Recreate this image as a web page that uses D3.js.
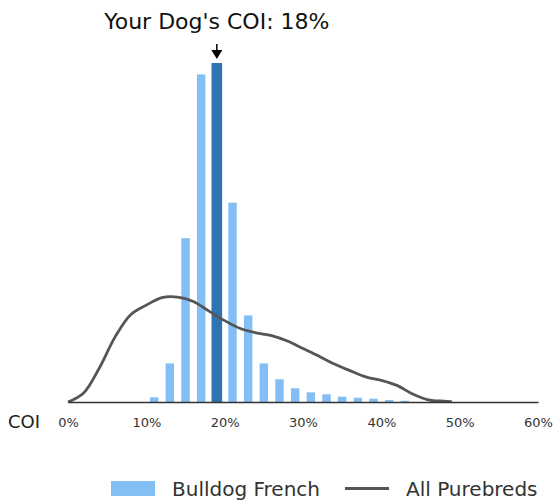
<!DOCTYPE html>
<html>
<head>
<meta charset="utf-8">
<script src="https://cdn.jsdelivr.net/npm/d3@7"></script>
<style>
    body {margin:0; background:white;}
    text {font-family:"DejaVu Sans", sans-serif;}
</style>
</head>
<body>
<div id="chart"></div>
<script>
//COI bins (left edge of each 2% bin) and share of Bulldog French dogs in each
var binStarts = [10,12,14,16,18,20,22,24,26,28,30,32,34,36,38,40,42];
var breedShare = [0.37,3.04,12.9,25.8,26.7,15.7,6.82,3.04,1.79,1.08,0.76,0.61,0.42,0.34,0.26,0.16,0.1];

//density of all purebreds, same units
var curveCoi = [0,2,4,6,8,10,12,14,16,18,20,22,24,26,28,30,32,34,36,38,40,42,44,46,48,49];
var curveDensity = [0,0.71,2.68,5.11,6.87,7.63,8.22,8.26,7.91,7.16,6.41,5.79,5.45,5.23,4.8,4.21,3.62,2.99,2.47,1.98,1.71,1.31,0.63,0.17,0.07,0.03];

var tickValues = [0,10,20,30,40,50,60];
var dogCoi = 18;
var binSize = 2;

var screen = {width:555, height:502};
var margins = {left:68, right:17, top:63, bottom:100};

var svg = d3.select("#chart")
    .append("svg")
    .attr("width",screen.width)
    .attr("height",screen.height);

var xScale = d3.scaleLinear()
    .domain([0,60])
    .range([margins.left, screen.width-margins.right]);

var yScale = d3.scaleLinear()
    .domain([0, d3.max(breedShare)])
    .range([screen.height-margins.bottom, margins.top]);

var binPx = xScale(binSize)-xScale(0);

var bars = binStarts.map(function(b,i){return {start:b, value:breedShare[i]};});

//the bars
svg.append("g")
    .selectAll("rect")
    .data(bars)
    .enter()
    .append("rect")
    .attr("x",function(d)
    {
        var w = d.start==dogCoi ? binPx*0.68 : binPx*0.54;
        return xScale(d.start+binSize/2)-w/2;
    })
    .attr("width",function(d){return d.start==dogCoi ? binPx*0.68 : binPx*0.54;})
    .attr("y",function(d){return yScale(d.value);})
    .attr("height",function(d){return yScale(0)-yScale(d.value);})
    .attr("fill",function(d){return d.start==dogCoi ? "#2f74b1" : "#83bef4";});

//all purebreds line
var line = d3.line()
    .x(function(d,i){return xScale(curveCoi[i]);})
    .y(function(d){return yScale(d);})
    .curve(d3.curveCatmullRom.alpha(0.5));

svg.append("path")
    .datum(curveDensity)
    .attr("d",line)
    .attr("fill","none")
    .attr("stroke","#555555")
    .attr("stroke-width",2.8);

//x axis, just a line and labels
var xAxis = d3.axisBottom(xScale)
    .tickValues(tickValues)
    .tickSize(0)
    .tickPadding(16)
    .tickFormat(function(d){return d+"%";});

var axis = svg.append("g")
    .attr("transform","translate(0,"+yScale(0)+")")
    .call(xAxis);
axis.select(".domain")
    .attr("stroke","#333")
    .attr("stroke-width",1.6);
axis.selectAll("text")
    .attr("font-family","DejaVu Sans")
    .attr("font-size",13)
    .attr("fill","#333");

svg.append("text")
    .attr("x",8)
    .attr("y",428)
    .attr("font-size",18)
    .attr("fill","#222")
    .text("COI");

//title and arrow over the dog's bar
var dogX = xScale(dogCoi+binSize/2);
var dogTop = yScale(breedShare[binStarts.indexOf(dogCoi)]);

svg.append("text")
    .attr("x",dogX)
    .attr("y",29)
    .attr("text-anchor","middle")
    .attr("font-size",22)
    .attr("fill","#111")
    .text("Your Dog's COI: "+dogCoi+"%");

svg.append("line")
    .attr("x1",dogX).attr("x2",dogX)
    .attr("y1",dogTop-19).attr("y2",dogTop-12)
    .attr("stroke","black")
    .attr("stroke-width",1.5);

svg.append("path")
    .attr("d","M"+(dogX-5.5)+","+(dogTop-13)+"L"+(dogX+5.5)+","+(dogTop-13)+"L"+dogX+","+(dogTop-4)+"Z")
    .attr("fill","black");

//legend
var legend = svg.append("g");
legend.append("rect")
    .attr("x",111).attr("y",481)
    .attr("width",44).attr("height",15)
    .attr("fill","#83bef4");
legend.append("text")
    .attr("x",172).attr("y",496)
    .attr("font-size",20)
    .attr("fill","#333")
    .text("Bulldog French");
legend.append("line")
    .attr("x1",345).attr("x2",389)
    .attr("y1",488.5).attr("y2",488.5)
    .attr("stroke","#555555")
    .attr("stroke-width",3);
legend.append("text")
    .attr("x",406).attr("y",496)
    .attr("font-size",20)
    .attr("fill","#333")
    .text("All Purebreds");
</script>
</body>
</html>
